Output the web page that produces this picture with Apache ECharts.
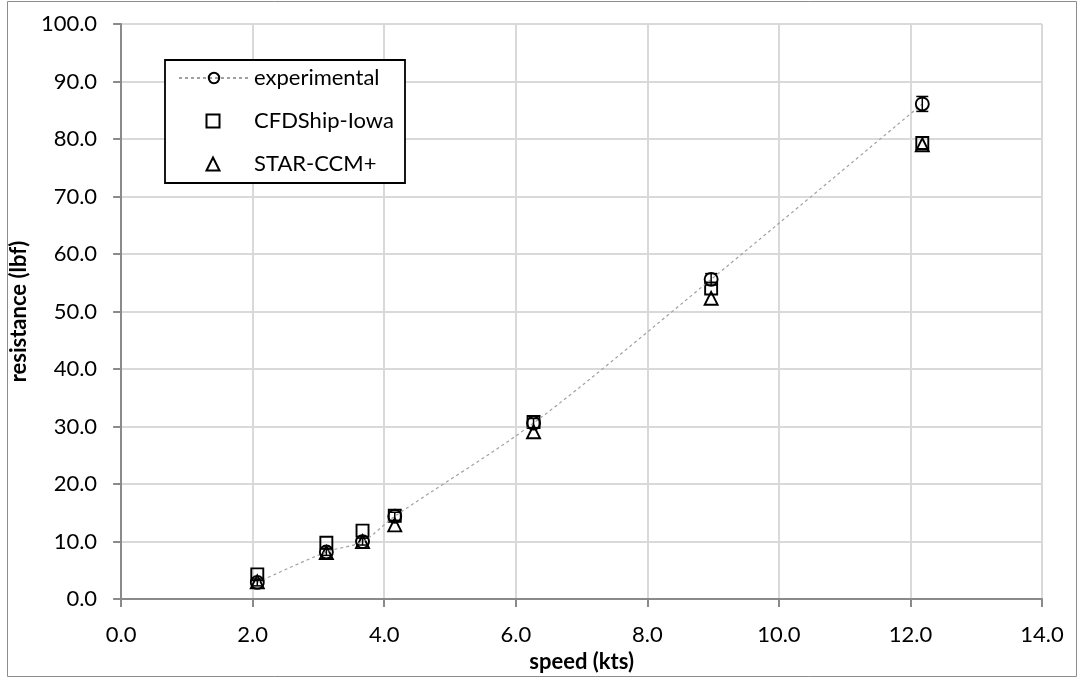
<!DOCTYPE html>
<html>
<head>
<meta charset="utf-8">
<script src="https://cdn.jsdelivr.net/npm/echarts@6/dist/echarts.min.js"></script>
<style>
  html, body { margin: 0; padding: 0; background: #fff; }
  #chart { width: 1078px; height: 678px; }
</style>
</head>
<body>
<div id="chart"></div>
<script>
// speed (kts) for each test point
const speed = [2.07, 3.12, 3.67, 4.16, 6.27, 8.97, 12.18];
// resistance (lbf)
const experimental = [2.9, 8.2, 10.0, 14.4, 30.6, 55.6, 86.1];
const experimentalErr = [0.6, 0.6, 0.6, 0.7, 0.8, 1.0, 1.3];
const cfdship = [4.3, 9.8, 11.9, 14.5, 30.8, 54.0, 79.3];
const starccm = [3.0, 8.1, 10.0, 12.9, 29.1, 52.3, 79.0];

const FONT = 'Lato';

const pairs = (ys) => speed.map((x, i) => [x, ys[i]]);

const markerStyle = {
  color: 'rgba(255,255,255,0)',
  borderColor: '#000',
  borderWidth: 1.9,
  opacity: 1
};

const legendText = { fontFamily: FONT, fontSize: 22, color: '#000', lineHeight: 26 };

const chart = echarts.init(document.getElementById('chart'));

chart.setOption({
  animation: false,
  textStyle: { fontFamily: FONT },
  grid: { left: 120, right: 36, top: 24, bottom: 75 },
  graphic: [
    {
      // outer chart frame
      type: 'rect',
      shape: { x: 7.5, y: 1.5, width: 1069, height: 675 },
      style: { fill: 'none', stroke: '#8c8c8c', lineWidth: 1 },
      silent: true
    },
    {
      // legend box
      type: 'rect',
      shape: { x: 165, y: 60, width: 240, height: 123 },
      style: { fill: '#fff', stroke: '#000', lineWidth: 1.8 },
      silent: true,
      z: 10
    }
  ],
  legend: [
    {
      left: 178, top: 65,
      padding: 0,
      itemWidth: 70, itemHeight: 13,
      textStyle: legendText,
      data: ['experimental'],
      z: 20
    },
    {
      left: 205.5, top: 108,
      orient: 'vertical',
      padding: 0,
      itemWidth: 13, itemHeight: 13,
      itemGap: 17,
      textStyle: Object.assign({ padding: [0, 0, 0, 29.5] }, legendText),
      data: ['CFDShip-Iowa', 'STAR-CCM+'],
      z: 20
    }
  ],
  xAxis: {
    type: 'value',
    min: 0, max: 14, interval: 2,
    name: 'speed (kts)',
    nameLocation: 'middle',
    nameGap: 45,
    nameTextStyle: { fontFamily: FONT, fontSize: 22, fontWeight: 'bold', color: '#000' },
    axisLine: { lineStyle: { color: '#8a8a8a', width: 2 } },
    axisTick: { show: true, length: 8, lineStyle: { color: '#8a8a8a', width: 2 } },
    axisLabel: { fontSize: 22, color: '#000', margin: 25, formatter: v => v.toFixed(1) },
    splitLine: { lineStyle: { color: '#d9d9d9', width: 2 } }
  },
  yAxis: {
    type: 'value',
    min: 0, max: 100, interval: 10,
    name: 'resistance (lbf)',
    nameLocation: 'middle',
    nameGap: 75,
    nameTextStyle: { fontFamily: FONT, fontSize: 22, fontWeight: 'bold', color: '#000' },
    axisLine: { show: true, lineStyle: { color: '#8a8a8a', width: 2 } },
    axisTick: { show: true, length: 8, lineStyle: { color: '#8a8a8a', width: 2 } },
    axisLabel: { fontSize: 22, color: '#000', margin: 24, formatter: v => v.toFixed(1) },
    splitLine: { lineStyle: { color: '#d9d9d9', width: 2 } }
  },
  series: [
    {
      name: 'experimental',
      type: 'line',
      data: pairs(experimental),
      smooth: 0.3,
      symbol: 'circle',
      symbolSize: 13,
      showAllSymbol: true,
      lineStyle: { color: '#a0a0a0', width: 1.2, type: [3, 3] },
      itemStyle: markerStyle,
      z: 5
    },
    {
      name: 'experimental-err',
      type: 'custom',
      data: speed.map((x, i) => [x, experimental[i], experimentalErr[i]]),
      renderItem: (params, api) => {
        const x = api.value(0), y = api.value(1), e = api.value(2);
        const top = api.coord([x, y + e]);
        const bot = api.coord([x, y - e]);
        const hw = 6;
        const st = { stroke: '#000', lineWidth: 1.5 };
        return {
          type: 'group',
          children: [
            { type: 'line', shape: { x1: top[0], y1: top[1], x2: bot[0], y2: bot[1] }, style: st },
            { type: 'line', shape: { x1: top[0] - hw, y1: top[1], x2: top[0] + hw, y2: top[1] }, style: st },
            { type: 'line', shape: { x1: bot[0] - hw, y1: bot[1], x2: bot[0] + hw, y2: bot[1] }, style: st }
          ]
        };
      },
      z: 6
    },
    {
      name: 'CFDShip-Iowa',
      type: 'scatter',
      data: pairs(cfdship),
      symbol: 'rect',
      symbolSize: 12,
      itemStyle: markerStyle,
      z: 4
    },
    {
      name: 'STAR-CCM+',
      type: 'scatter',
      data: pairs(starccm),
      symbol: 'triangle',
      symbolSize: 13,
      itemStyle: markerStyle,
      z: 4
    }
  ]
});
</script>
</body>
</html>
